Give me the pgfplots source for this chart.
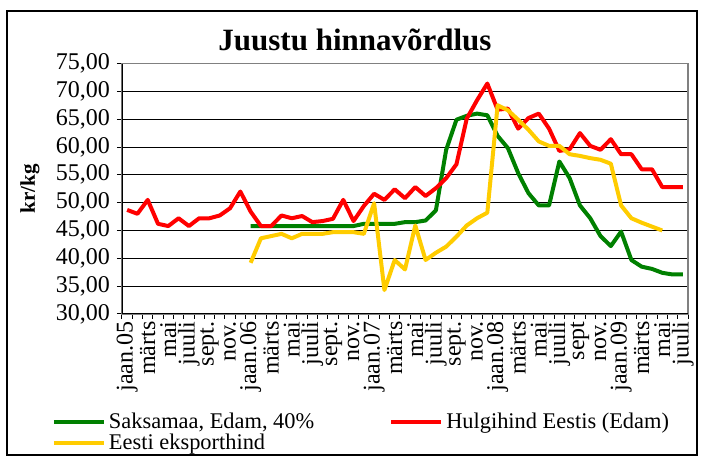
\documentclass[border=0pt]{standalone}
\usepackage{fontspec}
\setmainfont{Liberation Serif}
\usepackage{pgfplots}
\pgfplotsset{compat=1.18}
\definecolor{cgreen}{RGB}{0,128,0}
\definecolor{cred}{RGB}{255,0,0}
\definecolor{cyellow}{RGB}{255,204,0}
\begin{document}
\begin{tikzpicture}
\useasboundingbox (-61pt,-73pt) rectangle (289.5pt,157pt);
\draw[black, line width=0.6pt] (-57.5pt,-70.5pt) rectangle (287.5pt,151.5pt);
\node[font=\bfseries\fontsize{15.5}{18}\selectfont] at (116.5pt,137pt) {Juustu hinnavõrdlus};
\begin{axis}[
  at={(0pt,0pt)}, anchor=south west,
  width=283pt, height=125.25pt, scale only axis,
  xmin=-0.5, xmax=54.5, ymin=30, ymax=75,
  ytick={30,35,...,75},
  xtick={0,2,...,54},
  xticklabels={jaan.05,märts,mai,juuli,sept.,nov.,jaan.06,märts,mai,juuli,sept.,nov.,jaan.07,märts,mai,juuli,sept.,nov.,jaan.08,märts,mai,juuli,sept,nov.,jaan.09,märts,mai,juuli},
  minor xtick={-0.5,0.5,...,54.5},
  xtick pos=bottom, ytick pos=left,
  tick align=outside,
  major x tick style={draw=none},
  minor tick length=2.5pt, major tick length=2.5pt,
  tick style={black, line width=0.5pt},
  xticklabel style={rotate=90, anchor=east, font=\fontsize{12}{13}\selectfont, inner sep=1pt},
  yticklabel style={font=\fontsize{12}{13}\selectfont},
  /pgf/number format/assume math mode=true,
  yticklabel={\pgfmathprintnumber[fixed,fixed zerofill,precision=2,use comma]{\tick}},
  ymajorgrids, major grid style={black, line width=0.5pt},
  axis line style={draw=gray, line width=0.6pt},
  ylabel={kr/kg},
  ylabel style={font=\bfseries\fontsize{10.5}{12}\selectfont, at={(axis description cs:-0.1625,0.5)}, anchor=center, rotate=0},
  legend columns=2,
  legend cell align=left,
  legend style={at={(axis description cs:-0.135,-0.36)}, anchor=north west, draw=none, fill=none,
    font=\fontsize{11.2}{12}\selectfont, row sep=-2.5pt,
    nodes={inner xsep=1.5pt},
    /tikz/every even column/.append style={column sep=36pt}},
  legend image code/.code={\draw[#1, line width=2pt] (0pt,0pt) -- (25pt,0pt);},
  every axis plot/.append style={line width=2pt, mark=none, line join=round},
]
\addplot[cgreen] coordinates {
(12,45.8)(13,45.8)(14,45.8)(15,45.8)(16,45.8)(17,45.8)(18,45.8)(19,45.8)(20,45.8)(21,45.8)(22,45.8)
(23,46.2)(24,46.2)(25,46.2)(26,46.2)(27,46.5)(28,46.5)(29,46.8)(30,48.6)(31,59.5)(32,64.9)(33,65.6)
(34,66.0)(35,65.7)(36,62.0)(37,59.8)(38,55.3)(39,51.7)(40,49.5)(41,49.5)(42,57.4)(43,54.4)(44,49.5)
(45,47.2)(46,44.0)(47,42.2)(48,44.8)(49,39.7)(50,38.5)(51,38.1)(52,37.4)(53,37.1)(54,37.1)};
\addlegendentry{Saksamaa, Edam, 40\%}
\addplot[cred] coordinates {
(0,48.7)(1,48.0)(2,50.5)(3,46.2)(4,45.8)(5,47.2)(6,45.8)(7,47.2)(8,47.2)(9,47.7)(10,49.0)(11,52.0)
(12,48.4)(13,45.8)(14,45.8)(15,47.7)(16,47.2)(17,47.6)(18,46.5)(19,46.7)(20,47.1)(21,50.5)(22,46.7)
(23,49.4)(24,51.6)(25,50.5)(26,52.4)(27,50.8)(28,52.8)(29,51.2)(30,52.6)(31,54.4)(32,56.9)(33,65.1)
(34,68.4)(35,71.4)(36,66.7)(37,66.9)(38,63.3)(39,65.2)(40,66.0)(41,63.3)(42,59.3)(43,59.6)(44,62.5)
(45,60.2)(46,59.5)(47,61.4)(48,58.7)(49,58.7)(50,56.0)(51,56.0)(52,52.8)(53,52.8)(54,52.8)};
\addlegendentry{Hulgihind Eestis (Edam)}
\addplot[cyellow] coordinates {
(12,39.2)(13,43.6)(14,44.0)(15,44.4)(16,43.6)(17,44.4)(18,44.4)(19,44.4)(20,44.7)(21,44.7)(22,44.7)
(23,44.4)(24,49.9)(25,34.3)(26,39.7)(27,38.0)(28,45.9)(29,39.7)(30,41.0)(31,42.1)(32,43.9)(33,45.9)
(34,47.2)(35,48.2)(36,67.5)(37,66.6)(38,64.9)(39,63.1)(40,61.0)(41,60.2)(42,60.2)(43,58.7)(44,58.4)
(45,58.0)(46,57.7)(47,57.0)(48,49.5)(49,47.2)(50,46.4)(51,45.7)(52,45.0)};
\addlegendentry{Eesti eksporthind}
\draw[gray, line width=0.6pt] (rel axis cs:0,1) -- (rel axis cs:1,1) -- (rel axis cs:1,0);
\draw[black, line width=0.6pt] (rel axis cs:0,1) -- (rel axis cs:0,0) -- (rel axis cs:1,0);
\end{axis}
\end{tikzpicture}
\end{document}
